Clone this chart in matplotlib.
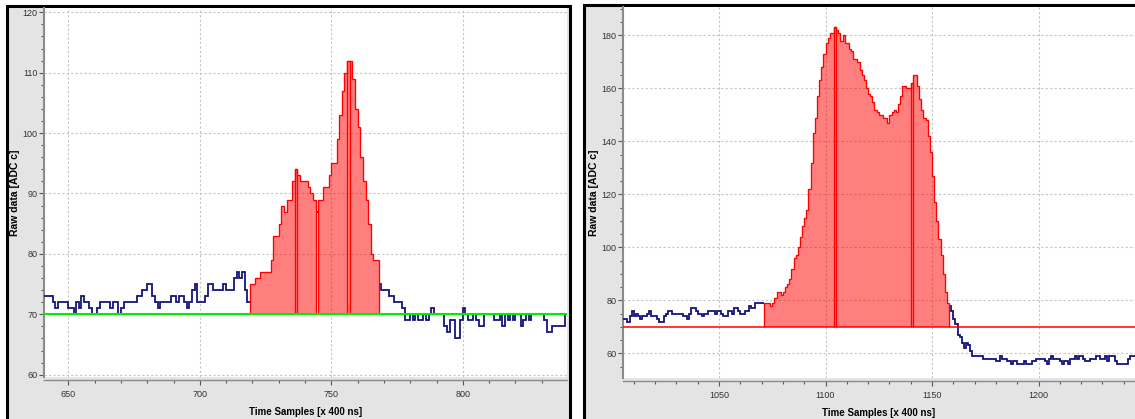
import matplotlib.pyplot as plt
import numpy as np
from matplotlib.patches import Rectangle
from matplotlib.ticker import MultipleLocator

plt.rcParams['font.family'] = ['Liberation Sans', 'DejaVu Sans']

# left event: one ADC sample per time bin, first bin at 640
left_start = 640
left_values = [73, 73, 73, 73, 72, 71, 72, 72, 72, 72,    # 640
               71, 71, 70, 72, 71, 73, 72, 72, 71, 70,    # 650
               70, 71, 72, 72, 72, 72, 71, 72, 72, 70,    # 660
               71, 72, 72, 72, 72, 72, 73, 73, 74, 74,    # 670
               75, 75, 73, 72, 71, 72, 72, 72, 72, 73,    # 680
               73, 72, 73, 73, 72, 71, 72, 74, 75, 72,    # 690
               72, 72, 73, 75, 75, 74, 74, 74, 74, 75,    # 700
               74, 74, 74, 76, 77, 76, 77, 74, 72, 75,    # 710
               75, 76, 76, 77, 77, 77, 77, 79, 83, 83,    # 720
               85, 88, 87, 89, 89, 92, 94, 93, 92, 92,    # 730
               92, 91, 90, 89, 87, 89, 89, 91, 91, 93,    # 740
               95, 95, 99, 103, 107, 110, 112, 112, 109, 104,  # 750
               101, 96, 92, 89, 85, 80, 79, 79, 75, 74,   # 760
               74, 74, 73, 73, 72, 72, 72, 71, 69, 69,    # 770
               70, 69, 70, 69, 69, 70, 69, 70, 71, 70,    # 780
               70, 70, 70, 68, 67, 69, 69, 66, 66, 69,    # 790
               71, 70, 69, 69, 70, 69, 68, 68, 70, 70,    # 800
               70, 70, 69, 69, 70, 68, 70, 69, 70, 69,    # 810
               70, 70, 68, 69, 70, 69, 70, 70, 70, 70,    # 820
               70, 69, 67, 67, 68, 68, 68, 68, 68, 70]    # 830
left_baseline = 70
# pulse windows as [first bin, end bin)
left_peaks = [(719, 737), (736, 744), (745, 757), (756, 768)]

# right event, first bin at 1004
right_start = 1004
right_values = [73, 73, 73, 72, 74, 76, 74, 75, 74, 73,    # 1004
                74, 74, 75, 76, 74, 74, 74, 73, 72, 72,    # 1014
                74, 75, 76, 76, 75, 75, 75, 75, 75, 74,    # 1024
                74, 73, 75, 77, 77, 76, 75, 75, 74, 75,    # 1034
                75, 76, 76, 76, 75, 76, 76, 75, 74, 74,    # 1044
                76, 76, 75, 77, 77, 76, 75, 75, 76, 76,    # 1054
                78, 77, 77, 79, 79, 79, 79, 79, 79, 79,    # 1064
                78, 79, 81, 83, 83, 82, 83, 85, 86, 88,    # 1074
                92, 96, 97, 100, 104, 108, 111, 114, 122, 132,      # 1084
                143, 149, 157, 163, 168, 173, 177, 179, 181, 181,   # 1094
                183, 182, 181, 178, 180, 177, 177, 175, 174, 171,   # 1104
                171, 170, 167, 165, 163, 160, 158, 157, 155, 152,   # 1114
                151, 150, 150, 149, 149, 147, 150, 151, 152, 151,   # 1124
                154, 157, 161, 161, 160, 160, 162, 165, 165, 161,   # 1134
                156, 152, 149, 148, 142, 136, 127, 117, 110, 103,   # 1144
                97, 90, 83, 79, 78, 76, 73, 71, 67, 66,    # 1154
                64, 62, 64, 63, 61, 59, 59, 59, 59, 59,    # 1164
                58, 58, 58, 58, 58, 58, 57, 57, 59, 58,    # 1174
                58, 57, 57, 56, 57, 57, 56, 56, 56, 57,    # 1184
                56, 56, 56, 57, 57, 58, 58, 58, 58, 57,    # 1194
                56, 58, 59, 58, 58, 58, 57, 56, 57, 57,    # 1204
                56, 58, 58, 59, 58, 59, 59, 58, 57, 57,    # 1214
                58, 58, 58, 59, 59, 58, 58, 59, 57, 59,    # 1224
                59, 59, 57, 56, 56, 56, 56, 56, 58, 59,    # 1234
                59, 59]                                    # 1244
right_baseline = 70
right_peaks = [(1071, 1105), (1104, 1141), (1140, 1158)]

W, H = 1135, 419
fig = plt.figure(figsize=(W / 100, H / 100), dpi=100)


def px_rect(x0, y0, x1, y1):
    # pixel box (top-left origin) -> figure fraction rect
    return [x0 / W, 1 - y1 / H, (x1 - x0) / W, (y1 - y0) / H]


# gray panel frames
for x0, y0, x1, y1 in [(7, 6, 570, 430), (584, 5, 1150, 430)]:
    r = px_rect(x0, y0, x1, y1)
    fig.add_artist(Rectangle((r[0], r[1]), r[2], r[3], transform=fig.transFigure,
                             facecolor='#e4e4e4', edgecolor='black', lw=2.2, zorder=-1))

blue = '#14147f'


def runs_of(mask):
    idx = np.flatnonzero(mask)
    if len(idx) == 0:
        return []
    return [(r[0], r[-1] + 1) for r in np.split(idx, np.flatnonzero(np.diff(idx) > 1) + 1)]


def draw_event(ax, start, values, baseline, peaks, base_color, base_lw):
    values = np.array(values, dtype=float)
    edges = np.arange(start, start + len(values) + 1)

    mask = np.zeros(len(values), bool)
    for a, b in peaks:
        mask[a - start:b - start] = True

    # raw trace only outside the pulse windows
    for i0, i1 in runs_of(~mask):
        ax.stairs(values[i0:i1], edges[i0:i1 + 1], baseline=None, color=blue, lw=1.3, zorder=3)

    # merged fill of the pulse windows, then one outline per window
    for i0, i1 in runs_of(mask):
        ax.stairs(values[i0:i1], edges[i0:i1 + 1], baseline=baseline, fill=True,
                  facecolor=(1, 0, 0, 0.5), edgecolor='none', zorder=4)
    for a, b in peaks:
        i0, i1 = a - start, b - start
        ax.stairs(values[i0:i1], edges[i0:i1 + 1], baseline=baseline, fill=False,
                  color='#ff0000', lw=0.95, zorder=5)

    ax.axhline(baseline, color=base_color, lw=base_lw, zorder=6)


def style(ax, xlim, ylim, ymajor, yminor):
    ax.set_xlim(*xlim)
    ax.set_ylim(*ylim)
    ax.set_facecolor('white')
    ax.spines['top'].set_visible(False)
    ax.spines['right'].set_visible(False)
    ax.spines['left'].set_color('#8a8a8a')
    ax.spines['left'].set_linewidth(1.5)
    ax.spines['bottom'].set_color('#8a8a8a')
    ax.spines['bottom'].set_linewidth(1.0)
    ax.spines['bottom'].set_position(('outward', 2.2))
    ax.xaxis.set_major_locator(MultipleLocator(50))
    ax.xaxis.set_minor_locator(MultipleLocator(10))
    ax.yaxis.set_major_locator(MultipleLocator(ymajor))
    ax.yaxis.set_minor_locator(MultipleLocator(yminor))
    ax.tick_params(which='both', direction='out', color='#555555', labelcolor='#333333',
                   labelsize=6.5, width=0.8)
    ax.tick_params(axis='x', pad=4)
    ax.tick_params(axis='y', pad=1.2)
    ax.tick_params(which='major', length=3.5)
    ax.tick_params(which='minor', length=2)
    ax.grid(which='major', color='#c4c4c4', linestyle=(0, (2, 2)), lw=0.8, zorder=0)
    ax.set_axisbelow(True)
    ax.set_xlabel('Time Samples [x 400 ns]', fontsize=7, fontweight='bold')
    ax.set_ylabel('Raw data [ADC c]', fontsize=7.5, fontweight='bold')
    ax.xaxis.label.set_va('center')
    ax.yaxis.label.set_va('center')


ax1 = fig.add_axes(px_rect(44, 8, 567, 377))
draw_event(ax1, left_start, left_values, left_baseline, left_peaks, '#00ee00', 1.5)
style(ax1, (640.76, 839.6), (59.62, 120.71), 10, 2)
ax1.yaxis.set_label_coords(-0.055, 0.5)
ax1.xaxis.set_label_coords(0.5, -0.096)

ax2 = fig.add_axes(px_rect(623, 7, 1135, 378))
draw_event(ax2, right_start, right_values, right_baseline, right_peaks, '#ff0000', 1.1)
style(ax2, (1004.93, 1245.3), (50.7, 190.7), 20, 5)
ax2.yaxis.set_label_coords(-0.057, 0.5)
ax2.xaxis.set_label_coords(0.5, -0.093)

fig.savefig('out.png', dpi=100)
